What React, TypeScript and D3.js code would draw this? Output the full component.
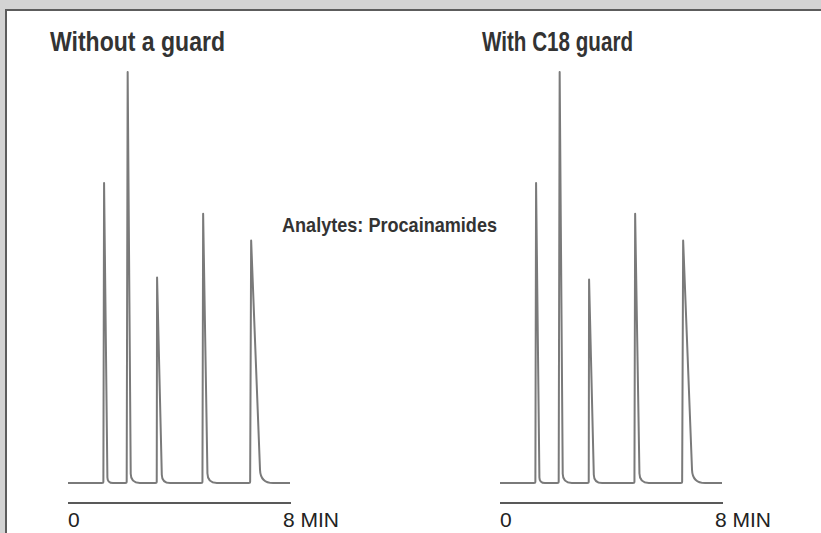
import React, { useEffect, useRef } from 'react';
import * as d3 from 'd3';

// run window (min) and what the time axis says at its ends
const runWindow = [0, 8];
const timeLabels = ['0', '8 MIN'];
const panelTitles = ['Without a guard', 'With C18 guard'];
const analyteNote = 'Analytes: Procainamides';

// apex retention times (min) and relative heights
const noGuardApex = [1.3, 2.15, 3.21, 4.87, 6.6];
const noGuardHeight = [73, 100, 50, 65.5, 59];
const guardApex = [1.3, 2.15, 3.21, 4.87, 6.6];
const guardHeight = [73, 100, 49.5, 65.5, 59];

// peak shape (min): foot->apex, apex->start of tail, tail back to baseline
const frontWidth = [0.025, 0.035, 0.012, 0.025, 0.036];
const backWidth = [0.12, 0.11, 0.17, 0.155, 0.32];
const tailWidth = [0.2, 0.33, 0.3, 0.34, 0.47];

const W = 821;
const H = 533;
const BASE_Y = 483;
const TOP_Y = 72;
const PANEL_W = 222;
const panels = [
  { x0: 68, title: panelTitles[0], titleX: 50, titleW: 175, apex: noGuardApex, height: noGuardHeight },
  { x0: 500, title: panelTitles[1], titleX: 482, titleW: 151, apex: guardApex, height: guardHeight },
];

// no condensed face installed, so bold text is squeezed to the reference width
const bold = "'Liberation Sans', Arial, Helvetica, sans-serif";
const plain = "'Liberation Sans', Arial, Helvetica, sans-serif";

// one trace: straight rise, straight fall, rounded tail back into the baseline
function tracePath(
  x: d3.ScaleLinear<number, number>,
  y: d3.ScaleLinear<number, number>,
  apex: number[],
  height: number[]
) {
  const p = d3.path();
  const y0 = y(0);
  p.moveTo(x(runWindow[0]), y0);
  apex.forEach((t, i) => {
    const xr = x(t - frontWidth[i]);
    const xa = x(t);
    const ya = y(height[i]);
    const xf = x(t + backWidth[i]);
    const xe = x(t + backWidth[i] + tailWidth[i]);
    const bend = xe - xf;
    p.lineTo(xr - 1.5, y0);
    p.quadraticCurveTo(xr, y0, xr, y0 - 1.5);
    p.lineTo(xa, ya);
    p.lineTo(xf, y0 - bend);
    const cx = xf + ((xf - xa) * bend) / (y0 - bend - ya);
    p.quadraticCurveTo(cx, y0, xe, y0);
  });
  p.lineTo(x(runWindow[1]), y0);
  return p.toString();
}

export default function App() {
  const ref = useRef<SVGSVGElement>(null);

  useEffect(() => {
    const svg = d3.select(ref.current);
    svg.selectAll('*').remove();

    // grey page with the white card running off the right and bottom
    svg.append('rect').attr('width', W).attr('height', H).attr('fill', '#d3d3d3');
    svg
      .append('rect')
      .attr('x', 6)
      .attr('y', 10)
      .attr('width', W + 60)
      .attr('height', H + 60)
      .attr('fill', '#fff')
      .attr('stroke', '#5c5c5c')
      .attr('stroke-width', 2);

    const y = d3.scaleLinear().domain([0, 100]).range([BASE_Y, TOP_Y]);

    panels.forEach((panel) => {
      const x = d3
        .scaleLinear()
        .domain(runWindow)
        .range([panel.x0, panel.x0 + PANEL_W]);
      const g = svg.append('g');

      g.append('text')
        .attr('x', panel.titleX)
        .attr('y', 51)
        .attr('font-family', bold)
        .attr('font-weight', 'bold')
        .attr('font-size', 27)
        .attr('textLength', panel.titleW)
        .attr('lengthAdjust', 'spacingAndGlyphs')
        .attr('fill', '#333')
        .text(panel.title);

      g.append('path')
        .attr('d', tracePath(x, y, panel.apex, panel.height))
        .attr('fill', 'none')
        .attr('stroke', '#7a7a7a')
        .attr('stroke-width', 2)
        .attr('stroke-linejoin', 'round');

      // time axis: a bare rule with its two end labels
      g.append('line')
        .attr('x1', x(runWindow[0]))
        .attr('x2', x(runWindow[1]) + 1)
        .attr('y1', 503)
        .attr('y2', 503)
        .attr('stroke', '#222')
        .attr('stroke-width', 1.5);

      g.append('text')
        .attr('x', x(runWindow[0]))
        .attr('y', 527)
        .attr('font-family', plain)
        .attr('font-size', 21)
        .attr('fill', '#222')
        .text(timeLabels[0]);

      g.append('text')
        .attr('x', x(runWindow[1]) - 7)
        .attr('y', 527)
        .attr('font-family', plain)
        .attr('font-size', 21)
        .attr('fill', '#222')
        .text(timeLabels[1]);
    });

    svg
      .append('text')
      .attr('x', 282)
      .attr('y', 232)
      .attr('font-family', bold)
      .attr('font-weight', 'bold')
      .attr('font-size', 21)
      .attr('textLength', 215)
      .attr('lengthAdjust', 'spacingAndGlyphs')
      .attr('fill', '#333')
      .text(analyteNote);
  }, []);

  return (
    <svg
      ref={ref}
      width={W}
      height={H}
      style={{ position: 'absolute', left: 0, top: 0, display: 'block' }}
    />
  );
}
